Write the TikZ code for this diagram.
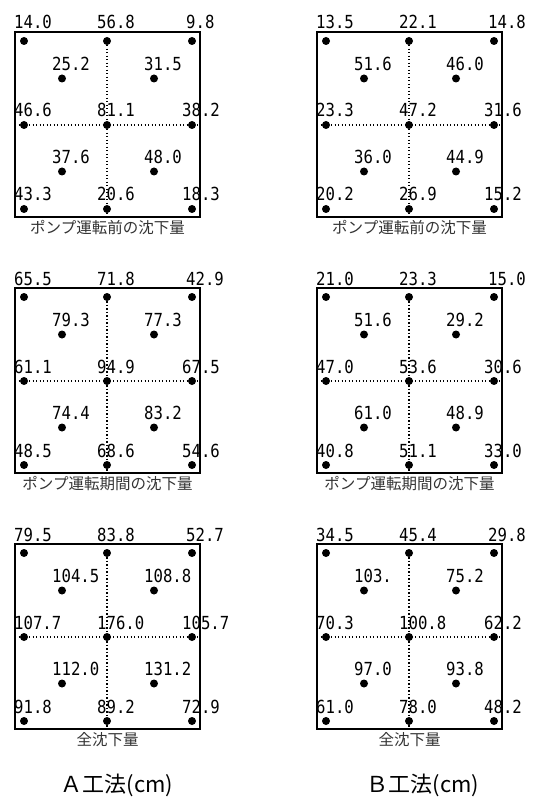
\documentclass[tikz,border=0pt]{standalone}
\usepackage{fontspec}
\setmonofont[FakeStretch=0.87]{DejaVu Sans Mono}
\newfontfamily\jafont{Noto Sans CJK JP}
\usetikzlibrary{positioning}

% dot positions inside a panel, and label offsets
\def\ptx{{9,92,177,47,139,9,92,177,47,139,9,92,177}}
\def\pty{{9,9,9,46.5,46.5,93,93,93,139.5,139.5,177,177,177}}
\def\labx{{-10,-10,-6,-10,-10,-10,-10,-10,-10,-10,-10,-10,-10}}
\def\laby{{-12,-12,-12,-8,-8,-8,-8,-8,-8,-8,-8,-8,-8}}

\newcommand\sokuten[5]{%
  \node[panel, anchor=north west] (#1) at (#2,#3) {};
  \foreach \v [count=\i from 0] in {#4} {
    \pgfmathsetmacro\px{\ptx[\i]}
    \pgfmathsetmacro\py{\pty[\i]}
    \pgfmathsetmacro\lx{\labx[\i]}
    \pgfmathsetmacro\ly{\laby[\i]}
    \node[spot] (#1-p\i) at (#2+\px,#3+\py) {};
    \node[val] (#1-v\i) at ([shift={(\lx,\ly)}]#1-p\i) {\v};
  }
  \draw[grid line] (#1-p1) -- (#1-p1 |- #1.south);
  \draw[grid line] (#1.west |- #1-p6) -- (#1.east |- #1-p6);
  \node[captext, below=3pt of #1] (#1-cap) {#5};
}

\tikzset{
  panel/.style={draw, line width=1.3pt, minimum width=185pt, minimum height=185pt,
    inner sep=0pt, outer sep=0pt},
  spot/.style={circle, fill, inner sep=0pt, minimum size=8pt},
  val/.style={font=\ttfamily\fontsize{18}{18}\selectfont, inner sep=0pt, anchor=base west},
  captext/.style={font=\jafont\fontsize{15.5}{16}\selectfont, text=black!80, inner sep=0pt},
  method/.style={font=\jafont\fontsize{22}{22}\selectfont, inner sep=0pt},
  grid line/.style={line width=1.3pt, dash pattern=on 1.3pt off 2.2pt},
}

\begin{document}
\begin{tikzpicture}[x=1pt, y=-1pt]
  \useasboundingbox (0,0) rectangle (536,799);

  \sokuten{A1}{15}{32}{14.0,56.8,9.8,25.2,31.5,46.6,81.1,38.2,37.6,48.0,43.3,20.6,18.3}{ポンプ運転前の沈下量}
  \sokuten{B1}{317}{32}{13.5,22.1,14.8,51.6,46.0,23.3,47.2,31.6,36.0,44.9,20.2,26.9,15.2}{ポンプ運転前の沈下量}

  \sokuten{A2}{15}{288}{65.5,71.8,42.9,79.3,77.3,61.1,94.9,67.5,74.4,83.2,48.5,68.6,54.6}{ポンプ運転期間の沈下量}
  \sokuten{B2}{317}{288}{21.0,23.3,15.0,51.6,29.2,47.0,53.6,30.6,61.0,48.9,40.8,51.1,33.0}{ポンプ運転期間の沈下量}

  \sokuten{A3}{15}{544}{79.5,83.8,52.7,104.5,108.8,107.7,176.0,105.7,112.0,131.2,91.8,89.2,72.9}{全沈下量}
  \sokuten{B3}{317}{544}{34.5,45.4,29.8,103.,75.2,70.3,100.8,62.2,97.0,93.8,61.0,78.0,48.2}{全沈下量}

  \node[method] (labA) at (117,785) {Ａ工法(cm)};
  \node[method] (labB) at (423,785) {Ｂ工法(cm)};
\end{tikzpicture}
\end{document}
